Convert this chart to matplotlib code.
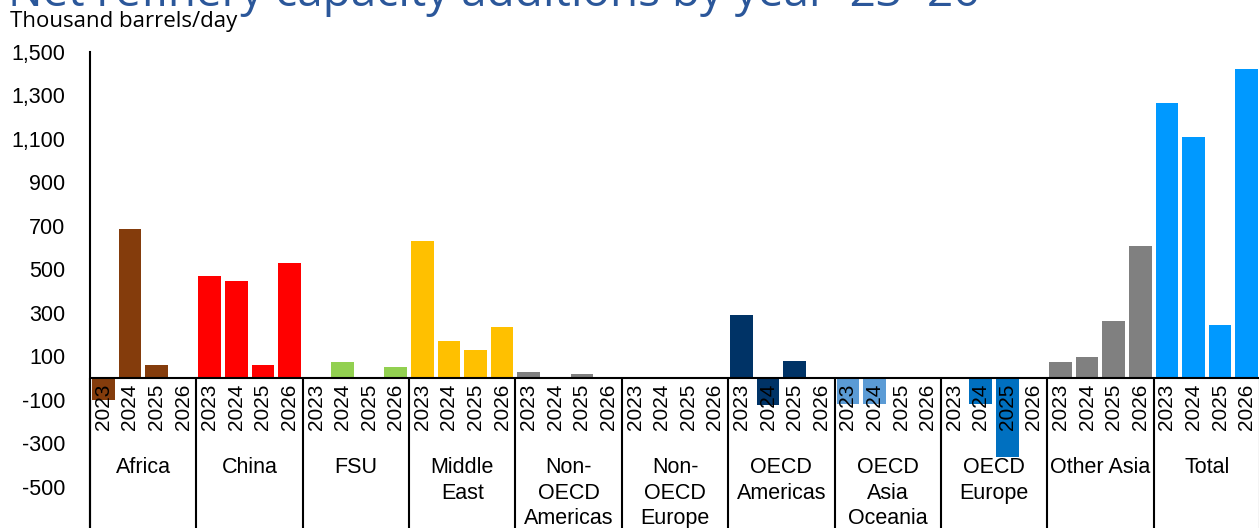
import numpy as np
import matplotlib
matplotlib.use("Agg")
import matplotlib.pyplot as plt

# -----------------------------------
# DATA
# -----------------------------------

regions = ["Africa", "China", "FSU", "Middle\nEast", "Non-\nOECD\nAmericas",
           "Non-\nOECD\nEurope", "OECD\nAmericas", "OECD\nAsia\nOceania",
           "OECD\nEurope", "Other Asia", "Total"]
years = ["2023", "2024", "2025", "2026"]

# thousand barrels/day, one list per region (2023..2026)
africa = [-100, 685, 60, 0]
china = [469, 446, 60, 530]
fsu = [0, 74, 0, 49]
middle_east = [630, 170, 129, 234]
non_oecd_americas = [28, 0, 18, 0]
non_oecd_europe = [0, 0, 0, 0]
oecd_americas = [290, -124, 78, 0]
oecd_asia_oceania = [-120, -120, 0, 0]
oecd_europe = [0, -120, -362, 0]
other_asia = [74, 97, 262, 607]
total = [1264, 1108, 242, 1421]

values = [africa, china, fsu, middle_east, non_oecd_americas, non_oecd_europe,
          oecd_americas, oecd_asia_oceania, oecd_europe, other_asia, total]

colors = ["#843C0C", "#FF0000", "#92D050", "#FFC000", "#808080", "#808080",
          "#003366", "#5B9BD5", "#0070C0", "#808080", "#0099FF"]

yticks = [-500, -300, -100, 100, 300, 500, 700, 900, 1100, 1300, 1500]

# -----------------------------------
# PLOT
# -----------------------------------

W, H = 1259, 528
fig = plt.figure(figsize=(W / 100, H / 100), dpi=100)
ax = fig.add_axes([90 / W, 0, 1170 / W, (H - 52) / H])

n_years = len(years)
for g, (vals, col) in enumerate(zip(values, colors)):
    xs = g * n_years + np.arange(n_years)
    ax.bar(xs, vals, width=0.85, color=col, zorder=2)
    for x, yr in zip(xs, years):
        ax.annotate(yr, xy=(x, 0), xytext=(0, -4), textcoords="offset points",
                    rotation=90, ha="center", va="top", fontsize=15,
                    family="Liberation Sans", zorder=3)
    ax.annotate(regions[g], xy=(xs.mean(), 0), xytext=(0, -57),
                textcoords="offset points", ha="center", va="top",
                fontsize=15.5, family="Liberation Sans", linespacing=1.28)

n = len(values) * n_years
bounds = np.arange(0, n + 1, n_years) - 0.5
ax.vlines(bounds, -700, 0, color="black", lw=1.5, clip_on=False, zorder=4)
ax.axhline(0, color="black", lw=1.5, zorder=4)

ax.set_xlim(-0.5, n - 0.5)
ax.set_ylim(-690, 1500)
ax.set_xticks([])
ax.set_yticks(yticks)
ax.set_yticklabels([f"{v:,}" for v in yticks], fontsize=15.5,
                   family="Liberation Sans")
ax.tick_params(axis="y", length=0, pad=18)
for s in ["top", "right", "bottom"]:
    ax.spines[s].set_visible(False)
ax.spines["left"].set_linewidth(1.5)

# Labels
fig.text(8 / W, 1 - 6 / H, "Net refinery capacity additions by year '23-'26",
         fontsize=33, color="#2B579A", family="Open Sans", va="baseline")
fig.text(10 / W, 1 - 21 / H, "Thousand barrels/day", fontsize=16,
         family="Open Sans", va="center")

fig.savefig("out.png", dpi=100)
